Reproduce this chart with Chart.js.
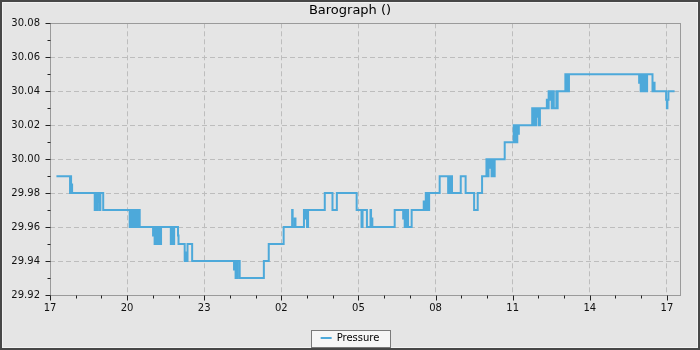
<!DOCTYPE html>
<html>
<head>
<meta charset="utf-8">
<script src="https://cdn.jsdelivr.net/npm/chart.js@4/dist/chart.umd.min.js"></script>
<style>
  html, body { margin: 0; padding: 0; background: #e5e5e5; }
  #wrap { width: 700px; height: 350px; position: relative; }
  canvas { display: block; }
</style>
</head>
<body>
<div id="wrap"><canvas id="c" width="700" height="350"></canvas></div>
<script>
// ---- data (hours since 17:00 on the first day) ----
const times = [
  0.25, 0.78, 0.80, 0.82, 0.86,
  1.74, 1.78, 1.81, 1.85, 1.88, 1.91, 1.93, 1.96, 2.07,
  3.10, 3.14, 3.18, 3.22, 3.26, 3.30, 3.34, 3.38, 3.42, 3.46, 3.49,
  4.01, 4.04, 4.07, 4.11, 4.15, 4.19, 4.23, 4.27, 4.30, 4.32,
  4.70, 4.74, 4.78, 4.83, 4.98, 5.00,
  5.24, 5.28, 5.31, 5.35, 5.53,
  7.16, 7.19, 7.22, 7.25, 7.28, 7.30, 7.38,
  8.32, 8.51, 9.09, 9.42, 9.44, 9.52, 9.55,
  9.88, 9.92, 9.96, 10.00, 10.04,
  10.69, 10.99, 11.16, 11.93, 12.12, 12.16, 12.33,
  12.47, 12.49, 12.51, 12.54,
  13.41, 13.74, 13.77, 13.80, 13.84, 13.88, 13.90, 13.93, 14.07,
  14.54, 14.58, 14.62, 14.66, 14.70, 14.73, 14.75,
  15.16, 15.49, 15.53, 15.57, 15.61, 15.64,
  15.98, 16.17, 16.50, 16.64, 16.81,
  16.98, 17.02, 17.06, 17.10, 17.14, 17.18, 17.22, 17.26, 17.30,
  17.69,
  18.04, 18.08, 18.12, 18.16, 18.18, 18.21, 18.24,
  18.76, 18.80, 18.84, 18.88, 18.92, 18.95, 18.98, 19.02, 19.06,
  19.33, 19.38, 19.40, 19.44, 19.48, 19.52, 19.56, 19.60, 19.70, 19.72, 19.75,
  20.05, 20.09, 20.13, 20.16, 20.19,
  22.92, 22.95, 22.98, 23.02, 23.06, 23.10, 23.14, 23.17, 23.20, 23.23,
  23.44, 23.47, 23.52,
  23.97, 24.00, 24.02, 24.06, 24.30
];
const pressure = [
  29.99, 29.98, 29.99, 29.985, 29.98,
  29.97, 29.98, 29.97, 29.98, 29.975, 29.98, 29.97, 29.98, 29.97,
  29.96, 29.97, 29.96, 29.97, 29.96, 29.97, 29.96, 29.97, 29.96, 29.97, 29.96,
  29.955, 29.96, 29.95, 29.96, 29.95, 29.96, 29.95, 29.96, 29.95, 29.96,
  29.95, 29.96, 29.95, 29.96, 29.955, 29.95,
  29.94, 29.945, 29.94, 29.95, 29.94,
  29.935, 29.94, 29.93, 29.94, 29.93, 29.94, 29.93,
  29.94, 29.95, 29.96, 29.97, 29.96, 29.965, 29.96,
  29.97, 29.965, 29.97, 29.96, 29.97,
  29.98, 29.97, 29.98, 29.97, 29.96, 29.97, 29.96,
  29.97, 29.96, 29.965, 29.96,
  29.97, 29.965, 29.97, 29.96, 29.97, 29.96, 29.97, 29.96, 29.97,
  29.975, 29.97, 29.98, 29.97, 29.98, 29.97, 29.98,
  29.99, 29.98, 29.99, 29.98, 29.99, 29.98,
  29.99, 29.98, 29.97, 29.98, 29.99,
  30.00, 29.99, 30.00, 29.995, 30.00, 29.99, 30.00, 29.99, 30.00,
  30.01,
  30.02, 30.01, 30.02, 30.01, 30.02, 30.015, 30.02,
  30.03, 30.02, 30.03, 30.02, 30.03, 30.025, 30.03, 30.02, 30.03,
  30.035, 30.03, 30.04, 30.035, 30.04, 30.03, 30.04, 30.03, 30.04, 30.03, 30.04,
  30.05, 30.04, 30.05, 30.04, 30.05,
  30.045, 30.05, 30.04, 30.05, 30.04, 30.05, 30.04, 30.05, 30.04, 30.05,
  30.04, 30.045, 30.04,
  30.035, 30.03, 30.035, 30.04, 30.04
];
const seriesName = 'Pressure';
const chartTitle = 'Barograph ()';
const xTickValues = [0,1,2,3,4,5,6,7,8,9,10,11,12,13,14,15,16,17,18,19,20,21,22,23,24];
const xTickLabels = ['17', '20', '23', '02', '05', '08', '11', '14', '17']; // every 3 hours
const yTickValues = [29.92, 29.94, 29.96, 29.98, 30.00, 30.02, 30.04, 30.06, 30.08];
const yMinorValues = [29.93, 29.95, 29.97, 29.99, 30.01, 30.03, 30.05, 30.07];

const LINE = '#4da9da';
const GRID = '#bdbdbd';
const FRAME = '#9a9a9a';

Chart.defaults.font.family = "'DejaVu Sans', 'Liberation Sans', sans-serif";
Chart.defaults.color = '#111';

const isMajorX = v => Math.abs(v / 3 - Math.round(v / 3)) < 1e-6;

const deco = {
  id: 'deco',
  beforeDraw(chart) {
    const { ctx, width, height } = chart;
    ctx.save();
    ctx.fillStyle = '#e5e5e5';
    ctx.fillRect(0, 0, width, height);
    ctx.strokeStyle = '#474747';
    ctx.lineWidth = 2;
    ctx.strokeRect(1, 1, width - 2, height - 2);
    ctx.strokeStyle = '#f2f2f2';
    ctx.lineWidth = 1;
    ctx.strokeRect(2.5, 2.5, width - 5, height - 5);
    const lg = chart.legend;
    if (lg && lg.legendHitBoxes && lg.legendHitBoxes.length) {
      const h = lg.legendHitBoxes[0];
      const cx = h.left + h.width / 2;
      const cy = h.top + h.height / 2;
      const bx = Math.round(cx - 39.5) + 0.5, by = Math.round(cy - 8.5) + 0.5;
      ctx.fillStyle = '#f6f6f6';
      ctx.fillRect(bx, by, 79, 17);
      ctx.strokeStyle = '#7a7a7a';
      ctx.strokeRect(bx, by, 79, 17);
    }
    ctx.restore();
  },
  beforeDatasetsDraw(chart) {
    const { ctx, chartArea: a, scales } = chart;
    ctx.save();
    ctx.strokeStyle = FRAME;
    ctx.lineWidth = 1;
    const L = Math.round(a.left) + 0.5, R = Math.round(a.right) + 0.5;
    const T = Math.round(a.top) + 0.5, B = Math.round(a.bottom) + 0.5;
    ctx.strokeRect(L, T, R - L, B - T);
    // tick marks
    ctx.strokeStyle = '#222';
    ctx.beginPath();
    xTickValues.forEach(v => {
      const x = Math.round(scales.x.getPixelForValue(v)) + 0.5;
      const len = isMajorX(v) ? 5 : 3;
      ctx.moveTo(x, B); ctx.lineTo(x, B + len);
    });
    yTickValues.forEach(v => {
      const y = Math.round(scales.y.getPixelForValue(v)) + 0.5;
      ctx.moveTo(L, y); ctx.lineTo(L - 5, y);
    });
    yMinorValues.forEach(v => {
      const y = Math.round(scales.y.getPixelForValue(v)) + 0.5;
      ctx.moveTo(L, y); ctx.lineTo(L - 3, y);
    });
    ctx.stroke();
    ctx.restore();
  }
};

new Chart(document.getElementById('c'), {
  type: 'line',
  data: {
    datasets: [{
      label: seriesName,
      data: times.map((t, i) => ({ x: t, y: pressure[i] })),
      borderColor: LINE,
      backgroundColor: LINE,
      borderWidth: 2,
      pointRadius: 0,
      stepped: true,
      fill: false,
      tension: 0,
      xAxisID: 'x',
      yAxisID: 'y'
    }]
  },
  options: {
    responsive: false,
    animation: false,
    layout: { padding: { left: 0, right: 0, top: 0, bottom: -3 } },
    plugins: {
      title: {
        display: true,
        text: chartTitle,
        color: '#000',
        font: { size: 13, weight: 'normal' },
        padding: { top: 3, bottom: 4.7 }
      },
      legend: {
        display: true,
        position: 'bottom',
        labels: {
          font: { size: 10 },
          color: '#000',
          boxWidth: 11,
          boxHeight: 2,
          padding: 8,
          generateLabels: (chart) => [{
            text: seriesName,
            fillStyle: LINE,
            strokeStyle: LINE,
            lineWidth: 0,
            hidden: false,
            datasetIndex: 0
          }]
        }
      },
      tooltip: { enabled: false }
    },
    scales: {
      x: {
        type: 'linear',
        min: 0,
        max: 24.51,
        afterBuildTicks: s => { s.ticks = xTickValues.map(v => ({ value: v })); },
        afterFit: s => { s.height = 30; },
        ticks: {
          autoSkip: false,
          maxRotation: 0,
          padding: 7,
          font: { size: 10 },
          color: '#111',
          callback: v => isMajorX(v) ? xTickLabels[Math.round(v / 3)] : ''
        },
        grid: {
          drawTicks: false,
          lineWidth: 1,
          color: c => (c.tick && isMajorX(c.tick.value) && c.tick.value > 0) ? GRID : 'rgba(0,0,0,0)'
        },
        border: { display: false, dash: [5, 3] }
      },
      y: {
        type: 'linear',
        min: 29.92,
        max: 30.08,
        afterBuildTicks: s => { s.ticks = yTickValues.map(v => ({ value: v })); },
        afterFit: s => { s.width = 50; },
        ticks: {
          padding: 10,
          font: { size: 10 },
          color: '#111',
          callback: v => v.toFixed(2)
        },
        grid: {
          drawTicks: false,
          lineWidth: 1,
          color: GRID
        },
        border: { display: false, dash: [5, 3] }
      },
      // empty right-hand margin (no ticks, no labels) so the plot ends at x = 680
      margin: {
        type: 'linear',
        position: 'right',
        display: true,
        afterFit: s => { s.width = 20; },
        ticks: { display: false },
        grid: { display: false, drawOnChartArea: false, drawTicks: false },
        border: { display: false }
      }
    }
  },
  plugins: [deco]
});
</script>
</body>
</html>
